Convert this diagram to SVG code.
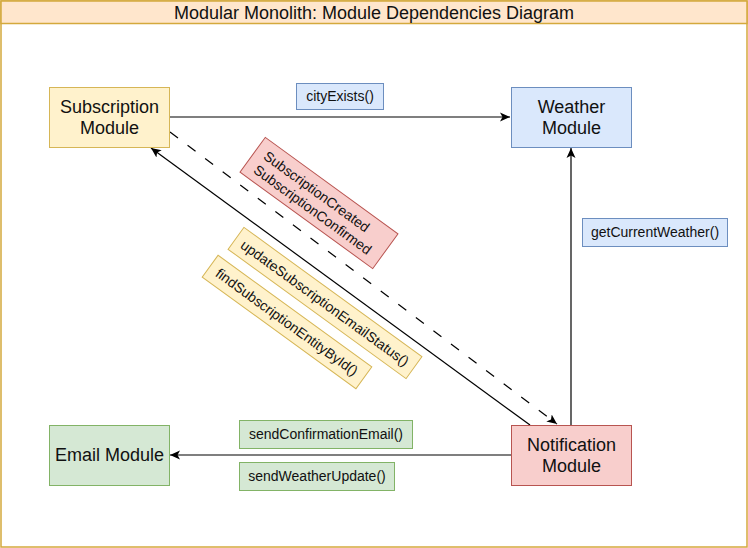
<svg xmlns="http://www.w3.org/2000/svg" width="748" height="548" viewBox="0 0 748 548">
<defs>
<style>
text{font-family:"Liberation Sans",Arial,sans-serif;fill:#111}
.n{font-size:18px;text-anchor:middle}
.l{font-size:14px;text-anchor:middle}
.ll{font-size:14px}
.edge{stroke:#000;stroke-width:1.2;fill:none}
.blue{fill:#dae8fc;stroke:#6c8ebf}
.green{fill:#d5e8d4;stroke:#82b366}
.yellow{fill:#fff2cc;stroke:#d6b656}
.red{fill:#f8cecc;stroke:#b85450}
</style>
<marker id="arr" markerUnits="userSpaceOnUse" markerWidth="12" markerHeight="10" refX="10" refY="5" orient="auto">
<path d="M0,0.5 L10,5 L0,9.5 L2.5,5 Z" fill="#000"/>
</marker>
</defs>
<rect x="1" y="1" width="746" height="546" fill="#fff" stroke="#d4a93c" stroke-width="1.5"/>
<rect x="1" y="1" width="746" height="22.5" fill="#ffe6cc" stroke="#d4a93c" stroke-width="1.5"/>
<text x="374" y="19" font-size="18" text-anchor="middle">Modular Monolith: Module Dependencies Diagram</text>

<g id="connectors">
<line class="edge" x1="169" y1="117" x2="510" y2="117" marker-end="url(#arr)"/>
<line class="edge" x1="571" y1="425" x2="571" y2="148" marker-end="url(#arr)"/>
<line class="edge" x1="511" y1="455" x2="170" y2="455" marker-end="url(#arr)"/>
<line class="edge" x1="530" y1="425" x2="151" y2="148" marker-end="url(#arr)"/>
<line class="edge" x1="170" y1="132" x2="557" y2="424" stroke-dasharray="10 12" marker-end="url(#arr)"/>
</g>

<g id="subscription">
<rect class="yellow" x="49.5" y="87.5" width="120" height="60"/>
<text class="n" x="109.5" y="113">Subscription</text>
<text class="n" x="109.5" y="134">Module</text>
</g>
<g id="weather">
<rect class="blue" x="511.5" y="87.5" width="120" height="60"/>
<text class="n" x="571.5" y="113">Weather</text>
<text class="n" x="571.5" y="134">Module</text>
</g>
<g id="email">
<rect class="green" x="49.5" y="425.5" width="120" height="60"/>
<text class="n" x="109.5" y="461">Email Module</text>
</g>
<g id="notification">
<rect class="red" x="511.5" y="425.5" width="120" height="60"/>
<text class="n" x="571.5" y="451">Notification</text>
<text class="n" x="571.5" y="472">Module</text>
</g>

<g id="label-cityExists">
<rect class="blue" x="296.5" y="83.5" width="87" height="26"/>
<text class="l" x="340" y="101">cityExists()</text>
</g>
<g id="label-getCurrentWeather">
<rect class="blue" x="582.5" y="218.5" width="145" height="28"/>
<text class="l" x="655" y="237">getCurrentWeather()</text>
</g>
<g id="label-sendConfirmationEmail">
<rect class="green" x="239.5" y="420.5" width="173" height="28"/>
<text class="l" x="326" y="439">sendConfirmationEmail()</text>
</g>
<g id="label-sendWeatherUpdate">
<rect class="green" x="239.5" y="462.5" width="155" height="28"/>
<text class="l" x="317" y="481">sendWeatherUpdate()</text>
</g>
<g id="label-events" transform="translate(319,203) rotate(36)">
<rect class="red" x="-82" y="-21.5" width="164" height="43"/>
<text class="ll" x="-72" y="-3">SubscriptionCreated</text>
<text class="ll" x="-72" y="14">SubscriptionConfirmed</text>
</g>
<g id="label-update" transform="translate(325,303) rotate(36)">
<rect class="yellow" x="-110" y="-13.5" width="220" height="27"/>
<text class="l" x="0" y="5">updateSubscriptionEmailStatus()</text>
</g>
<g id="label-find" transform="translate(287,322) rotate(36)">
<rect class="yellow" x="-95" y="-13.5" width="190" height="27"/>
<text class="l" x="0" y="5">findSubscriptionEntityById()</text>
</g>
</svg>
